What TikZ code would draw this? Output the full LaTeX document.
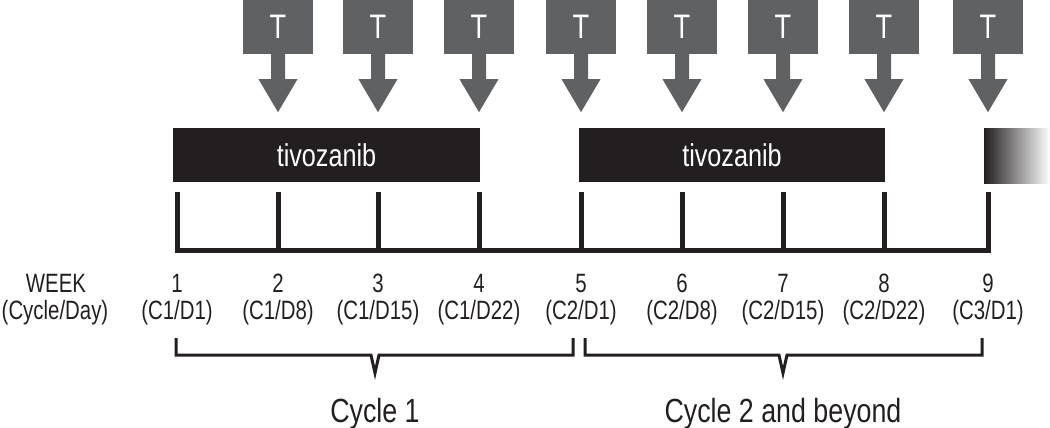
\documentclass[tikz,border=0pt]{standalone}
\usepackage{fontspec}
\setmainfont{Liberation Sans}[FakeStretch=0.8]
\newfontfamily\labelfont{Liberation Sans}[FakeStretch=0.77]
\usetikzlibrary{calc}
\definecolor{tgray}{RGB}{96,97,99}
\definecolor{ink}{RGB}{35,31,32}
\begin{document}
\begin{tikzpicture}[x=1pt,y=-1pt,
  tbox/.style={fill=tgray,text=white,minimum width=70pt,minimum height=54pt,inner sep=0pt,font=\fontsize{34}{34}\selectfont},
  drugbar/.style={fill=ink,text=white,minimum height=54pt,inner sep=0pt,font=\fontsize{31.5}{31.5}\selectfont},
  lbl/.style={anchor=base,inner sep=0pt,text=ink,font=\labelfont\fontsize{26.5}{26.5}\selectfont},
  cyc/.style={anchor=base,inner sep=0pt,text=ink,font=\fontsize{33.5}{33.5}\selectfont},
  axisline/.style={draw=ink,line width=5pt},
  bracketline/.style={draw=ink,line width=3pt,miter limit=20}]
\useasboundingbox (0,0) rectangle (1050,428);
% week positions
\foreach \i/\x in {1/177,2/278,3/378,4/479,5/581,6/682,7/783,8/884,9/988}{
  \coordinate (w\i) at (\x,250);
}
% axis
\draw[axisline] ($(w1)+(0,-58)$) -- (w1) -- (w9) -- ($(w9)+(0,-58)$);
\foreach \i in {2,...,8}{
  \draw[axisline] (w\i) -- ++(0,-58);
}
% T arrows
\foreach \i/\x in {2/278,3/378,4/479,5/581,6/682,7/783,8/884,9/988}{
  \node[tbox] (t\i) at (\x,27) {T};
  \fill[tgray] ($(t\i.south)+(-7,-1)$) -- ++(0,26) -- ++(-12.5,0)
     -- ($(t\i.south)+(0,58)$) -- ($(t\i.south)+(19.5,25)$) -- ++(-12.5,0) -- ++(0,-26) -- cycle;
}
% drug bars
\node[drugbar,minimum width=307pt] (bar1) at (326.5,155) {tivozanib};
\node[drugbar,minimum width=306pt] (bar2) at (732,155) {tivozanib};
\node[minimum width=66pt,minimum height=55pt,inner sep=0pt,left color=ink,right color=white] (bar3) at (1017,155.5) {};
% labels
\node[lbl] (week) at (56,292) {WEEK};
\node[lbl] (cd) at (55,319) {(Cycle/Day)};
\foreach \i/\x/\d in {1/177/{(C1/D1)},2/278/{(C1/D8)},3/378/{(C1/D15)},4/479/{(C1/D22)},5/581/{(C2/D1)},6/682/{(C2/D8)},7/783/{(C2/D15)},8/884/{(C2/D22)},9/988/{(C3/D1)}}{
  \node[lbl] (n\i) at (\x,292) {\i};
  \node[lbl] (d\i) at (\x,319) {\d};
}
% brackets
\draw[bracketline] (176,338) -- (176,355) -- (371,355) -- (375,373) -- (379,355) -- (573,355) -- (573,338);
\draw[bracketline] (585,338) -- (585,355) -- (779,355) -- (783,373) -- (787,355) -- (982,355) -- (982,338);
\node[cyc] (c1) at (375,422) {Cycle 1};
\node[cyc] (c2) at (783,422) {Cycle 2 and beyond};
\end{tikzpicture}
\end{document}
